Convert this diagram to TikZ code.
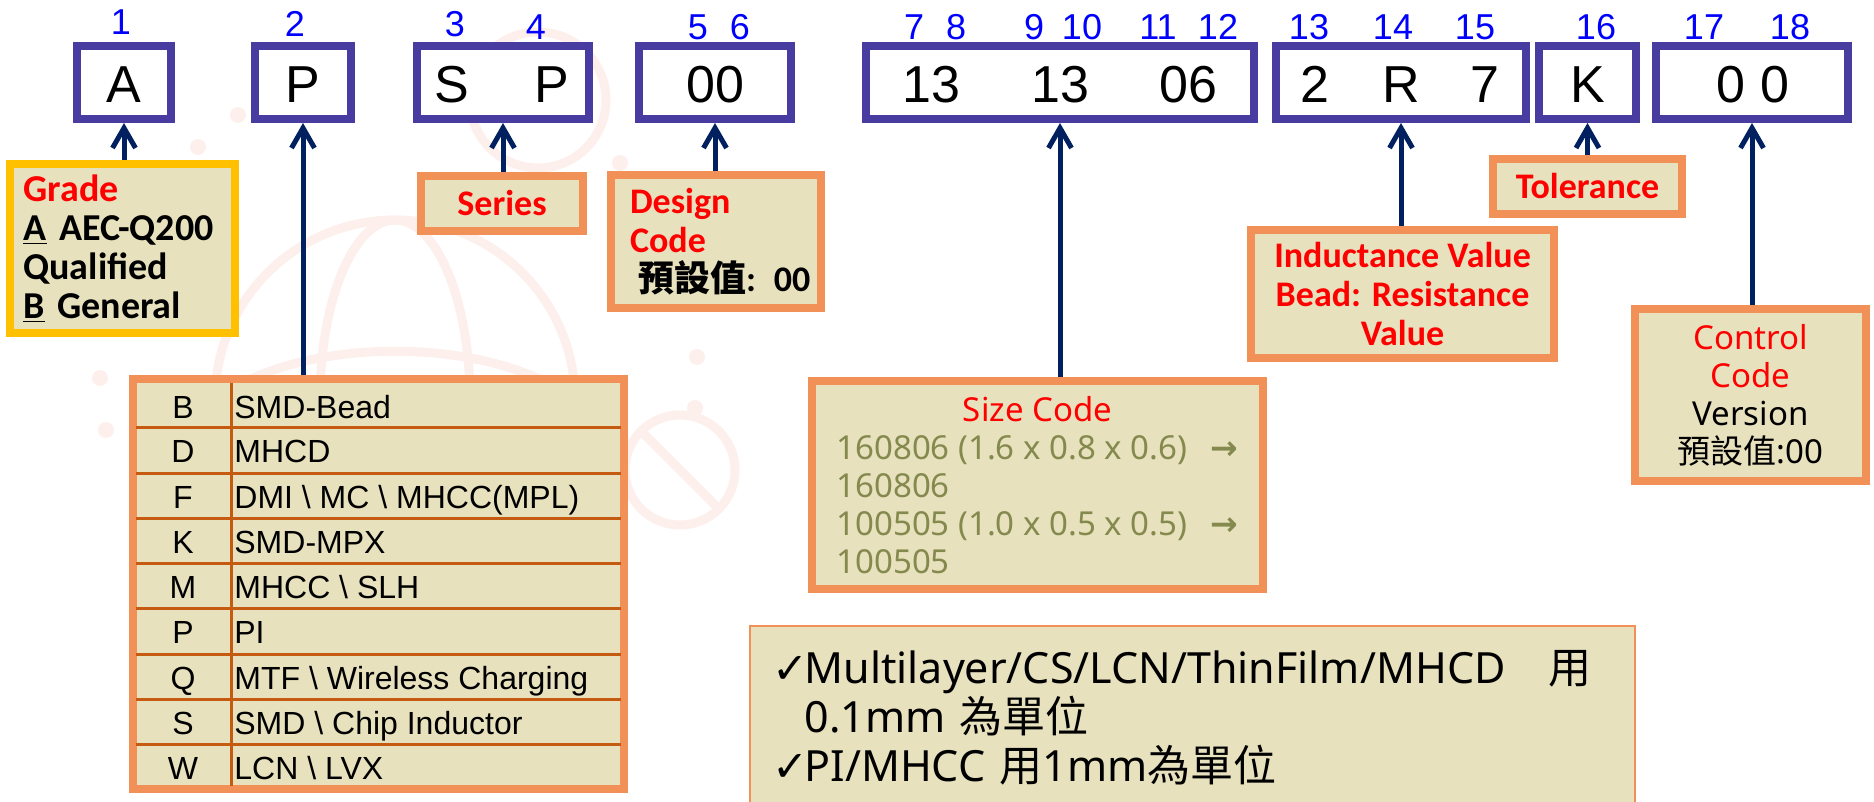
\documentclass[tikz,border=0pt]{standalone}
\usepackage{fontspec}
\setmainfont{Carlito}
\newfontfamily\arial{Liberation Sans}
\newfontfamily\cjk{Noto Sans CJK TC}
\newfontfamily\dejavu{DejaVu Sans}
\newfontfamily\segoe{Noto Sans}
\usetikzlibrary{arrows.meta}
\definecolor{cPurple}{RGB}{72,60,160}
\definecolor{cOrange}{RGB}{241,145,88}
\definecolor{cBeige}{RGB}{231,225,189}
\definecolor{cGold}{RGB}{255,192,0}
\definecolor{cNavy}{RGB}{0,32,96}
\definecolor{cBlue}{RGB}{0,0,255}
\definecolor{cOlive}{RGB}{132,137,78}
\definecolor{cRule}{RGB}{197,90,17}
\definecolor{cRed}{RGB}{255,0,0}
\definecolor{cWater}{RGB}{253,240,236}
\begin{document}
\begin{tikzpicture}[x=0.5pt,y=-0.5pt,
  codebox/.style={draw=cPurple, line width=4pt, fill=white, inner sep=0pt},
  lbl/.style={draw=cOrange, line width=4pt, fill=cBeige, inner sep=0pt, align=center,
     font=\bfseries\fontsize{18}{19.5}\selectfont, text=cRed},
  codetxt/.style={font=\arial\fontsize{26}{26}\selectfont, anchor=base, inner sep=0pt},
  posnum/.style={font=\arial\fontsize{18}{18}\selectfont, text=cBlue, anchor=base, inner sep=0pt},
  arr/.style={-{Straight Barb[length=10pt,width=11.5pt]}, line width=2.5pt, draw=cNavy},
  tcell/.style={font=\arial\fontsize{16}{16}\selectfont, inner sep=0pt},
  trule/.style={draw=cRule, line width=1.5pt},
  water/.style={draw=cWater, line width=4.5pt},
  wdot/.style={fill=cWater},
]
\useasboundingbox (0,0) rectangle (1874,802);
\fill[white] (0,0) rectangle (1874,802);

% faint background watermark
\draw[water] (395,400) circle (180);
\draw[water] (395,400) ellipse (75 and 180);
\draw[water] (215,400) .. controls (300,335) and (490,335) .. (575,400);
\draw[water] (538,100) circle (68);
\draw[water] (680,470) circle (55);
\draw[water] (640,430) -- (720,510);
\foreach \p in {(198,147),(238,115),(100,378),(106,430),(620,163),(697,357),(695,408)}
  \fill[wdot] \p circle (8);

% code boxes
\node[codebox, minimum width=47pt, minimum height=36.5pt] (bA) at (124,82.5) {};
\node[codebox, minimum width=48pt, minimum height=36.5pt] (bP) at (303,82.5) {};
\node[codebox, minimum width=86pt, minimum height=36.5pt] (bSP) at (503,82.5) {};
\node[codebox, minimum width=76pt, minimum height=36.5pt] (bD) at (715,82.5) {};
\node[codebox, minimum width=194pt, minimum height=36.5pt] (bSz) at (1060,82.5) {};
\node[codebox, minimum width=125pt, minimum height=36.5pt] (bInd) at (1401,82.5) {};
\node[codebox, minimum width=48.5pt, minimum height=36.5pt] (bK) at (1587.5,82.5) {};
\node[codebox, minimum width=96pt, minimum height=36.5pt] (bC) at (1752,82.5) {};

% code letters
\node[codetxt] (tA) at (124,103) {A};
\node[codetxt] (tP) at (303,103) {P};
\node[codetxt] (tS) at (452,103) {S};
\node[codetxt] (tP2) at (552,103) {P};
\node[codetxt] (tD) at (715,103) {00};
\node[codetxt] (t1) at (931,103) {13};
\node[codetxt] (t2) at (1060,103) {13};
\node[codetxt] (t3) at (1188,103) {06};
\node[codetxt] (t4) at (1315,103) {2};
\node[codetxt] (t5) at (1401,103) {R};
\node[codetxt] (t6) at (1485,103) {7};
\node[codetxt] (tK) at (1588,103) {K};
\node[codetxt] (tC) at (1753,103) {0 0};

% position numbers
\node[posnum] (n1) at (121,35) {1};
\node[posnum] (n2) at (295,37) {2};
\node[posnum] (n3) at (455,37) {3};
\node[posnum] (n4) at (536,40) {4};
\node[posnum] (n5) at (698,40) {5};
\node[posnum] (n6) at (740,40) {6};
\node[posnum] (n7) at (914,40) {7};
\node[posnum] (n8) at (956,40) {8};
\node[posnum] (n9) at (1034,40) {9};
\node[posnum] (n10) at (1082,40) {10};
\node[posnum] (n11) at (1158,40) {11};
\node[posnum] (n12) at (1218,40) {12};
\node[posnum] (n13) at (1309,40) {13};
\node[posnum] (n14) at (1393,40) {14};
\node[posnum] (n15) at (1475,40) {15};
\node[posnum] (n16) at (1596,40) {16};
\node[posnum] (n17) at (1704,40) {17};
\node[posnum] (n18) at (1790,40) {18};

% label boxes
\node[lbl, draw=cGold, minimum width=112.5pt, minimum height=84.5pt, align=left, text width=99pt, text=black,
  font=\bfseries\fontsize{19}{19.5}\selectfont] (lGrade) at (122.5,248.5)
  {{\color{cRed}Grade}\\\underline{A} AEC-Q200\\Qualified\\\underline{B} General};
\node[lbl, minimum width=81pt, minimum height=27.5pt] (lSeries) at (502,203.5) {Series};
\node[lbl, minimum width=105pt, minimum height=66.5pt, align=left, text width=86pt] (lDesign) at (716,241.5)
  {Design\\Code\\\mbox{\color{black}\hspace*{4pt}{\cjk 預設值}: 00}};
\node[lbl, minimum width=94.5pt, minimum height=27.5pt] (lTol) at (1587.5,186.5) {Tolerance};
\node[lbl, minimum width=151.5pt, minimum height=64pt] (lInd) at (1402.5,294)
  {Inductance Value\\Bead: Resistance\\Value};
\node[lbl, minimum width=115.5pt, minimum height=86pt, font=\segoe\fontsize{16.5}{19}\selectfont] (lCtrl) at (1750.5,395)
  {Control\\Code\\{\color{black}Version}\\{\color{black}{\cjk 預設值}:00}};
\node[lbl, minimum width=225.5pt, minimum height=104pt, font=\segoe\fontsize{16.5}{19}\selectfont] (lSize) at (1037.5,485)
  {Size Code\\
   {\color{cOlive}\makebox[201pt][l]{160806 (1.6 x 0.8 x 0.6)\hfill{\dejavu\bfseries →}}}\\
   {\color{cOlive}\makebox[201pt][l]{160806}}\\
   {\color{cOlive}\makebox[201pt][l]{100505 (1.0 x 0.5 x 0.5)\hfill{\dejavu\bfseries →}}}\\
   {\color{cOlive}\makebox[201pt][l]{100505}}};

% table
\node[draw=cOrange, line width=4pt, fill=cBeige, minimum width=245.5pt, minimum height=205pt, inner sep=0pt] (tbl) at (378.5,584) {};
\foreach \y in {427,473,518,563,608,654,699,744} \draw[trule] (136,\y) -- (621,\y);
\draw[trule] (231,383) -- (231,786);
\foreach \t/\l/\d in {383/B/SMD-Bead, 427/D/MHCD, 473/F/DMI \textbackslash{} MC \textbackslash{} MHCC(MPL),
   518/K/SMD-MPX, 563/M/MHCC \textbackslash{} SLH, 608/P/PI, 654/Q/MTF \textbackslash{} Wireless Charging,
   699/S/SMD \textbackslash{} Chip Inductor, 744/W/LCN \textbackslash{} LVX}
{
  \node[tcell, anchor=base] at (183,\t+35.5) {\l};
  \node[tcell, anchor=base west] at (234,\t+35) {\d};
}

% note box
\node[draw=cOrange, line width=1pt, fill=cBeige, minimum width=442.5pt, minimum height=92pt, inner sep=0pt,
  align=left, text width=420pt, font=\segoe\fontsize{21.5}{20.5}\selectfont] (note) at (1192.5,718)
  {\makebox[16pt][l]{\dejavu ✓}Multilayer/CS/LCN/ThinFilm/MHCD\ \ \ {\cjk 用}\\
   \hspace*{16pt}0.1mm {\cjk 為單位}\\[4pt]
   \makebox[16pt][l]{\dejavu ✓}PI/MHCC {\cjk 用}1mm{\cjk 為單位}};

% arrows
\draw[arr] (lGrade.north -| bA.south) -- (bA.south);
\draw[arr] (tbl.north -| bP.south) -- (bP.south);
\draw[arr] (lSeries.north -| bSP.south) -- (bSP.south);
\draw[arr] (lDesign.north -| bD.south) -- (bD.south);
\draw[arr] (lSize.north -| bSz.south) -- (bSz.south);
\draw[arr] (lInd.north -| bInd.south) -- (bInd.south);
\draw[arr] (lTol.north -| bK.south) -- (bK.south);
\draw[arr] (lCtrl.north -| bC.south) -- (bC.south);
\end{tikzpicture}
\end{document}
